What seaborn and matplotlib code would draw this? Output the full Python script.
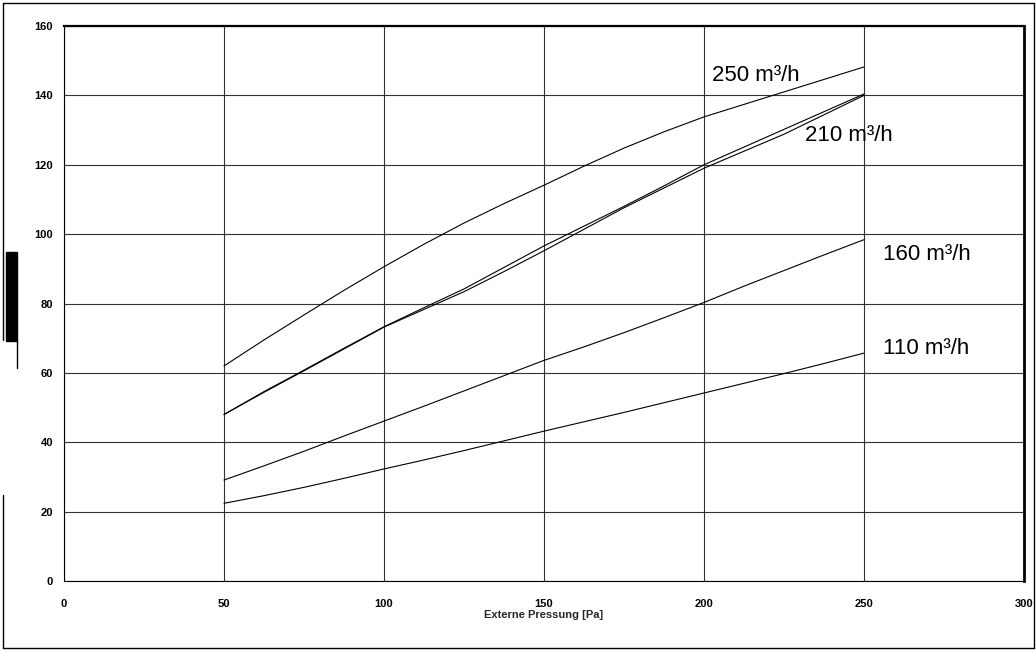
import numpy as np
import pandas as pd
import matplotlib
matplotlib.use("Agg")
import matplotlib.pyplot as plt
from matplotlib.lines import Line2D
from matplotlib.patches import Rectangle
import seaborn as sns

# ---- data ----
pressure = [50, 62.5, 75, 87.5, 100, 112.5, 125, 137.5, 150,
            162.5, 175, 187.5, 200, 212.5, 225, 237.5, 250]
flow_250 = [62.0, 69.5, 76.7, 83.8, 90.6, 97.1, 103.2, 108.8, 114.1,
            119.6, 124.8, 129.5, 133.8, 137.4, 141.0, 144.6, 148.2]
flow_210a = [48.0, 54.6, 60.8, 67.1, 73.3, 78.8, 84.2, 90.4, 96.6,
             102.3, 108.0, 113.9, 120.0, 125.1, 130.2, 135.3, 140.4]
flow_210b = [48.0, 54.4, 60.6, 66.9, 73.2, 78.3, 83.4, 89.2, 95.2,
             101.4, 107.6, 113.3, 119.0, 123.9, 128.8, 134.4, 140.0]
flow_160 = [29.1, 33.2, 37.4, 41.8, 46.1, 50.4, 54.8, 59.2, 63.6,
            67.5, 71.6, 75.9, 80.3, 85.0, 89.5, 94.0, 98.4]
flow_110 = [22.4, 24.6, 27.0, 29.6, 32.3, 34.9, 37.6, 40.4, 43.2,
            45.9, 48.6, 51.4, 54.2, 57.0, 59.8, 62.7, 65.7]

series = {"250": flow_250, "210a": flow_210a, "210b": flow_210b,
          "160": flow_160, "110": flow_110}
labels = ["250 m³/h", "210 m³/h", "160 m³/h", "110 m³/h"]
label_pos = [(202.5, 145.8), (231.6, 128.5), (256.0, 94.0), (256.0, 67.1)]

x_ticks = [0, 50, 100, 150, 200, 250, 300]
y_ticks = [0, 20, 40, 60, 80, 100, 120, 140, 160]
x_label = "Externe Pressung [Pa]"

df = pd.DataFrame([(p, v, k) for k, vals in series.items()
                   for p, v in zip(pressure, vals)],
                  columns=["p", "v", "s"])

sns.set_theme(style="white")
plt.rcParams['font.family'] = ['Liberation Sans', 'DejaVu Sans']

fig = plt.figure(figsize=(10.36, 6.51), dpi=100)
ax = fig.add_axes([64 / 1036, 1 - 581 / 651, (1024 - 64) / 1036, (581 - 26) / 651])

sns.lineplot(data=df, x="p", y="v", hue="s", palette=["black"] * 5,
             legend=False, ax=ax, linewidth=0.8, estimator=None, sort=False)

ax.set_xlim(0, 300)
ax.set_ylim(0, 160)
ax.set_xticks(x_ticks)
ax.set_yticks(y_ticks)
ax.grid(True, color="#333333", linewidth=0.8)
ax.set_axisbelow(True)

for s in ["left", "bottom"]:
    ax.spines[s].set_color("black")
    ax.spines[s].set_linewidth(0.8)
ax.spines["top"].set_color("black")
ax.spines["top"].set_linewidth(1.6)
ax.spines["right"].set_color("black")
ax.spines["right"].set_linewidth(2.0)

ax.tick_params(axis="both", which="both", direction="out", length=4,
               width=0.8, color="black", labelsize=8, labelcolor="black")
ax.tick_params(axis="y", pad=4)
ax.tick_params(axis="x", pad=9)
for t in ax.get_xticklabels() + ax.get_yticklabels():
    t.set_fontweight("bold")

ax.set_xlabel(x_label, fontsize=8, fontweight="bold", labelpad=1)
ax.set_ylabel("")

for txt, (xp, yp) in zip(labels, label_pos):
    ax.text(xp, yp, txt, fontsize=16, ha="left", va="center", color="black")

# outer frame and left-side artefacts
W, H = 1036, 651
def fx(px): return px / W
def fy(py): return 1 - py / H
frame_kw = dict(color="black", linewidth=1.0, transform=fig.transFigure)
fig.add_artist(Line2D([fx(3), fx(1034)], [fy(3), fy(3)], **frame_kw))
fig.add_artist(Line2D([fx(3), fx(1034)], [fy(648), fy(648)], **frame_kw))
fig.add_artist(Line2D([fx(1034), fx(1034)], [fy(3), fy(648)], **frame_kw))
fig.add_artist(Line2D([fx(3), fx(3)], [fy(3), fy(340)], **frame_kw))
fig.add_artist(Line2D([fx(3), fx(3)], [fy(495), fy(648)], **frame_kw))
fig.add_artist(Line2D([fx(17), fx(17)], [fy(340), fy(368)], **frame_kw))
fig.add_artist(Rectangle((fx(6), fy(341)), fx(11), 89 / H,
                         transform=fig.transFigure, color="black"))

fig.savefig("out.png", dpi=100)
